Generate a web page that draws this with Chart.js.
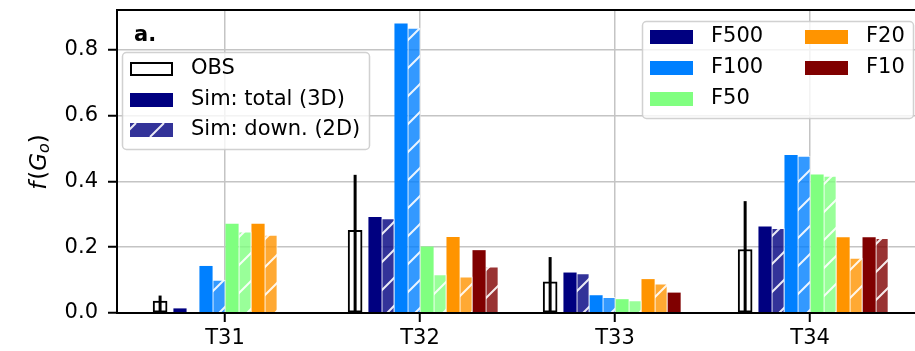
<!DOCTYPE html>
<html>
<head>
<meta charset="utf-8">
<script src="https://cdn.jsdelivr.net/npm/chart.js@4.4.1/dist/chart.umd.min.js"></script>
<style>
  html, body { margin: 0; padding: 0; background: #fff; }
  #wrap { width: 915px; height: 351px; }
</style>
</head>
<body>
<div id="wrap"><canvas id="chart" width="915" height="351"></canvas></div>
<script>
// ---- data ----
const groups = ['T31', 'T32', 'T33', 'T34'];
const yTicks = [0, 0.2, 0.4, 0.6, 0.8];

const obsValues = [0.036, 0.251, 0.095, 0.193];
const obsErrTop = [0.053, 0.420, 0.170, 0.340];

const simNames = ['F500', 'F100', 'F50', 'F20', 'F10'];
const f500Total = [0.013, 0.291, 0.122, 0.262];
const f500Down  = [0.000, 0.287, 0.120, 0.257];
const f100Total = [0.142, 0.879, 0.053, 0.479];
const f100Down  = [0.100, 0.866, 0.048, 0.477];
const f50Total  = [0.270, 0.201, 0.041, 0.420];
const f50Down   = [0.247, 0.117, 0.038, 0.416];
const f20Total  = [0.270, 0.230, 0.102, 0.229];
const f20Down   = [0.237, 0.110, 0.089, 0.167];
const f10Total  = [0.000, 0.190, 0.061, 0.229];
const f10Down   = [0.000, 0.140, 0.000, 0.227];

// ---- styling / layout ----
const FONT = 'DejaVu Sans';
const FS = 21;
const simColors = [[0, 0, 128], [0, 128, 255], [128, 255, 128], [255, 148, 0], [128, 0, 0]];
const totals = [f500Total, f100Total, f50Total, f20Total, f10Total];
const downs = [f500Down, f100Down, f50Down, f20Down, f10Down];

const OBS_OFF = -0.333;   // obs bar offset from category centre
const SIM_OFF = -0.231;   // first sim bar offset
const SIM_STEP = 0.0667;  // spacing between sim bars

const rgb = (c, a = 1) => `rgba(${c[0]},${c[1]},${c[2]},${a})`;

// white "/" hatch over a faded fill
const hatch = (c) => {
    const s = 28;
    const cv = document.createElement('canvas');
    cv.width = s; cv.height = s;
    const g = cv.getContext('2d');
    g.fillStyle = rgb(c, 0.8);
    g.fillRect(0, 0, s, s);
    g.strokeStyle = 'rgba(255,255,255,0.9)';
    g.lineWidth = 2;
    g.beginPath();
    g.moveTo(0, s); g.lineTo(s, 0);
    g.moveTo(-2, 2); g.lineTo(2, -2);
    g.moveTo(s - 2, s + 2); g.lineTo(s + 2, s - 2);
    g.stroke();
    return g.createPattern(cv, 'repeat');
};

const toPoints = (vals, off) => vals.map((v, i) => ({ x: i + off, y: v }));

const datasets = [{
    label: 'OBS',
    data: toPoints(obsValues, OBS_OFF),
    backgroundColor: '#fff',
    borderColor: '#000',
    borderWidth: 2,
    borderSkipped: false,
    barThickness: 14,
}];
simNames.forEach((name, k) => {
    datasets.push({
        label: name + ' total',
        data: toPoints(totals[k], SIM_OFF + 2 * k * SIM_STEP),
        backgroundColor: rgb(simColors[k]),
        borderWidth: 0,
        barThickness: 12.5,
    });
    datasets.push({
        label: name + ' down',
        data: toPoints(downs[k], SIM_OFF + (2 * k + 1) * SIM_STEP),
        backgroundColor: hatch(simColors[k]),
        borderColor: 'rgba(255,255,255,0.8)',
        borderWidth: 1,
        barThickness: 12.5,
    });
});

// ---- drawing helpers for the bits Chart.js has no option for ----
const box = (ctx, x, y, w, h) => {
    ctx.beginPath();
    if (ctx.roundRect) ctx.roundRect(x, y, w, h, 4); else ctx.rect(x, y, w, h);
    ctx.fillStyle = 'rgba(255,255,255,0.8)';
    ctx.fill();
    ctx.strokeStyle = 'rgba(204,204,204,0.9)';
    ctx.lineWidth = 1.5;
    ctx.stroke();
};

const patch = (ctx, x, yc, kind, c) => {
    const w = 43, h = 14, y = yc - h / 2;
    if (kind === 'obs') {
        ctx.fillStyle = '#fff'; ctx.fillRect(x, y, w, h);
        ctx.strokeStyle = '#000'; ctx.lineWidth = 2; ctx.strokeRect(x + 1, y + 1, w - 2, h - 2);
    } else if (kind === 'down') {
        ctx.save();
        ctx.fillStyle = rgb(c, 0.8); ctx.fillRect(x, y, w, h);
        ctx.beginPath(); ctx.rect(x, y, w, h); ctx.clip();
        ctx.strokeStyle = 'rgba(255,255,255,0.9)'; ctx.lineWidth = 2;
        ctx.beginPath();
        for (let sx = x + 6; sx < x + w + h; sx += 28) { ctx.moveTo(sx - h, y + h); ctx.lineTo(sx, y); }
        ctx.stroke();
        ctx.restore();
    } else {
        ctx.fillStyle = rgb(c); ctx.fillRect(x, y, w, h);
    }
};

const label = (ctx, text, x, yc) => {
    ctx.fillStyle = '#000';
    ctx.font = `${FS}px "${FONT}"`;
    ctx.textBaseline = 'middle';
    ctx.textAlign = 'left';
    ctx.fillText(text, x, yc);
};

const extras = {
    id: 'extras',
    afterDatasetsDraw(chart) {
        const { ctx, chartArea: a, scales } = chart;
        const y = scales.y;
        // error bars on OBS
        const meta = chart.getDatasetMeta(0);
        ctx.save();
        ctx.strokeStyle = '#000';
        ctx.lineWidth = 3;
        meta.data.forEach((bar, i) => {
            ctx.beginPath();
            ctx.moveTo(bar.x, y.getPixelForValue(0));
            ctx.lineTo(bar.x, y.getPixelForValue(obsErrTop[i]));
            ctx.stroke();
        });
        // spines
        ctx.lineWidth = 2;
        ctx.beginPath();
        ctx.moveTo(a.right, a.top); ctx.lineTo(a.left, a.top);
        ctx.lineTo(a.left, a.bottom); ctx.lineTo(a.right, a.bottom);
        ctx.stroke();
        ctx.restore();
    },
    afterDraw(chart) {
        const { ctx } = chart;
        ctx.save();
        // panel tag
        ctx.fillStyle = '#000';
        ctx.font = `bold ${FS}px "${FONT}"`;
        ctx.textBaseline = 'alphabetic';
        ctx.fillText('a.', 134, 41);

        // legend 1: obs / sims
        box(ctx, 122.5, 52.5, 247, 97);
        patch(ctx, 130, 69, 'obs');
        label(ctx, 'OBS', 191, 69);
        patch(ctx, 130, 100, 'total', simColors[0]);
        label(ctx, 'Sim: total (3D)', 191, 100);
        patch(ctx, 130, 130, 'down', simColors[0]);
        label(ctx, 'Sim: down. (2D)', 191, 130);

        // legend 2: filters
        box(ctx, 642.5, 21.5, 271, 97);
        simNames.forEach((n, k) => {
            const col = k < 3 ? 0 : 1;
            const row = k < 3 ? k : k - 3;
            const px = col ? 805 : 650;
            const yc = 37 + row * 31;
            patch(ctx, px, yc, 'total', simColors[k]);
            label(ctx, n, px + 61, yc);
        });

        // y axis title f(G_o)
        ctx.translate(40, 162);
        ctx.rotate(-Math.PI / 2);
        const parts = [
            ['f', 'italic 23px', 0],
            ['(', '23px', 0],
            ['G', 'italic 23px', 0],
            ['o', 'italic 16px', 5],
            [')', '23px', 0],
        ];
        let total = 0;
        parts.forEach(p => { ctx.font = `${p[1]} "${FONT}"`; total += ctx.measureText(p[0]).width + (p[0] === 'f' ? 2 : 0); });
        let cx = -total / 2;
        ctx.textBaseline = 'middle';
        parts.forEach(p => {
            ctx.font = `${p[1]} "${FONT}"`;
            ctx.fillText(p[0], cx, p[2]);
            cx += ctx.measureText(p[0]).width + (p[0] === 'f' ? 2 : 0);
        });
        ctx.restore();
    },
};

new Chart(document.getElementById('chart'), {
    type: 'bar',
    data: { datasets },
    options: {
        responsive: false,
        animation: false,
        devicePixelRatio: 1,
        grouped: false,
        layout: { padding: { top: 10, left: 0, right: 0, bottom: 0 } },
        plugins: { legend: { display: false }, tooltip: { enabled: false } },
        scales: {
            x: {
                type: 'linear',
                offset: false,
                min: -0.554,
                max: 3.538,
                afterBuildTicks: (s) => { s.ticks = groups.map((_, i) => ({ value: i })); },
                afterFit: (s) => { s.height = 38; s.paddingLeft = 0; s.paddingRight = 0; },
                grid: { offset: false, color: '#c4c4c4', lineWidth: 1.5, tickColor: '#000', tickWidth: 2, tickLength: 9 },
                border: { display: false },
                ticks: {
                    autoSkip: false, maxRotation: 0, padding: 4,
                    color: '#000', font: { family: FONT, size: FS },
                    callback: (v) => groups[Math.round(v)],
                },
            },
            y: {
                min: 0,
                max: 0.921,
                afterBuildTicks: (s) => { s.ticks = yTicks.map(v => ({ value: v })); },
                afterFit: (s) => { s.width = 117; s.paddingTop = 0; s.paddingBottom = 0; },
                grid: { color: '#c4c4c4', lineWidth: 1.5, tickColor: '#000', tickWidth: 2, tickLength: 9 },
                border: { display: false },
                ticks: {
                    padding: 10,
                    color: '#000', font: { family: FONT, size: FS },
                    callback: (v) => v.toFixed(1),
                },
            },
        },
    },
    plugins: [extras],
});
</script>
</body>
</html>
